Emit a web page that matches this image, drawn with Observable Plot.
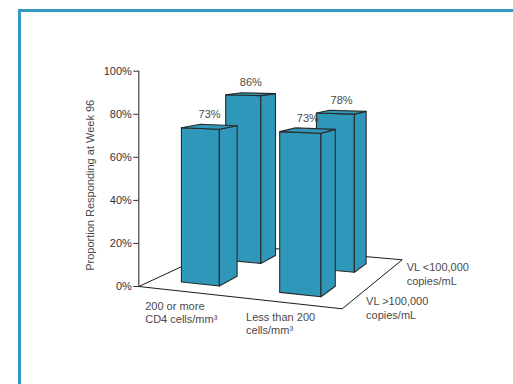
<!DOCTYPE html>
<html>
<head>
<meta charset="utf-8">
<script src="https://cdn.jsdelivr.net/npm/d3@7"></script>
<script src="https://cdn.jsdelivr.net/npm/@observablehq/plot@0.6"></script>
<style>
  html, body { margin: 0; padding: 0; background: #fff; overflow: hidden; }
  #chart { position: absolute; left: 0; top: 0; width: 513px; height: 384px; }
  #frame {
    position: absolute; left: 18px; top: 9px; width: 620px; height: 500px;
    border-left: 3px solid #3399bf; border-top: 3px solid #3399bf;
    pointer-events: none;
  }
</style>
</head>
<body>
<div id="chart"></div>
<div id="frame"></div>
<script>
// Categories (across) and viral-load series (into depth)
const categories = ["200 or more\nCD4 cells/mm³", "Less than 200\ncells/mm³"];
const series = ["VL >100,000\ncopies/mL", "VL <100,000\ncopies/mL"];
const vlAbove100k = [73, 73];   // front row
const vlBelow100k = [86, 78];   // back row
const yTicks = [0, 20, 40, 60, 80, 100];
const yTitle = "Proportion Responding at Week 96";

// Perspective of the floor: u runs across the categories, v runs into depth (both 0..1).
// Corners are given in y-axis units (one unit = one percentage point at the front-left corner):
// front-left, front-right, back-right, back-left.
const floorCorners = [[0, 0], [94.47, -10.36], [122.34, 12.40], [41.99, 19.46]];

function squareToQuad(q) {
  const [[x0, y0], [x1, y1], [x2, y2], [x3, y3]] = q;
  const dx1 = x1 - x2, dx2 = x3 - x2, dx3 = x0 - x1 + x2 - x3;
  const dy1 = y1 - y2, dy2 = y3 - y2, dy3 = y0 - y1 + y2 - y3;
  const den = dx1 * dy2 - dy1 * dx2;
  const g = (dx3 * dy2 - dy3 * dx2) / den;
  const h = (dx1 * dy3 - dy1 * dx3) / den;
  return {
    a: x1 - x0 + g * x1, b: x3 - x0 + h * x3, c: x0,
    d: y1 - y0 + g * y1, e: y3 - y0 + h * y3, f: y0, g, h
  };
}
const H = squareToQuad(floorCorners);

// Project a floor position (u, v) raised by a percentage value; heights shrink with distance.
function project(u, v, value) {
  const w = 1 + H.g * u + H.h * v;
  return [(H.a * u + H.b * v + H.c) / w, (H.d * u + H.e * v + H.f + value) / w];
}

// Bar layout on the floor
const catU = [0.245, 0.75], barW = 0.2;
const rowV = [0.25, 0.745], barD = 0.2;
const seriesLabelV = [0.17, 0.88], seriesLabelU = 1.055;
const rows = [vlAbove100k, vlBelow100k];

// Back row first so the front row paints over it
const bars = [];
for (const j of [1, 0]) {
  for (let i = 0; i < categories.length; i++) bars.push({i, j, value: rows[j][i]});
}

const faces = [];
bars.forEach((b, k) => {
  const u0 = catU[b.i] - barW / 2, u1 = catU[b.i] + barW / 2;
  const v0 = rowV[b.j] - barD / 2, v1 = rowV[b.j] + barD / 2;
  const t = b.value;
  const quads = {
    front: [[u0, v0, 0], [u1, v0, 0], [u1, v0, t], [u0, v0, t]],
    side:  [[u1, v0, 0], [u1, v1, 0], [u1, v1, t], [u1, v0, t]],
    top:   [[u0, v0, t], [u1, v0, t], [u1, v1, t], [u0, v1, t]]
  };
  for (const [name, pts] of Object.entries(quads)) {
    for (const p of [...pts, pts[0]]) {
      const [x, y] = project(...p);
      faces.push({id: `${k}-${name}`, x, y});
    }
  }
});

const floor = [[0, 0], [1, 0], [1, 1], [0, 1], [0, 0]].map(([u, v]) => {
  const [x, y] = project(u, v, 0);
  return {x, y};
});

const valueLabels = bars.map(b => {
  const [x, y] = project(catU[b.i], rowV[b.j], b.value);
  return {x, y, text: `${b.value}%`};
});

const categoryLabels = categories.map((c, i) => {
  const [x, y] = project(catU[i] - barW / 2, 0, 0);
  return {x, y, text: c};
});

const seriesLabels = series.map((s, j) => {
  const [x, y] = project(seriesLabelU, seriesLabelV[j], 0);
  return {x, y, text: s};
});

const font = "'Liberation Sans', Arial, sans-serif";
const ink = "#4a4a4a";

const chart = Plot.plot({
  width: 513,
  height: 384,
  marginLeft: 138.3,
  marginRight: 159.4,
  marginTop: 70.7,
  marginBottom: 98,
  style: {fontFamily: font, fontSize: "11px", color: "#333", background: "transparent"},
  x: {domain: [0, 100], axis: null},
  y: {domain: [0, 100], ticks: yTicks, tickFormat: d => `${d}%`, tickSize: 5, tickPadding: 2, label: null},
  marks: [
    Plot.line(floor, {x: "x", y: "y", stroke: "#1a1a1a", strokeWidth: 1}),
    Plot.ruleX([0], {y1: 0, y2: 100, stroke: "#1a1a1a", strokeWidth: 1}),
    Plot.line(faces, {
      x: "x", y: "y", z: "id",
      fill: "#2f97ba", stroke: "#2a2a2a", strokeWidth: 1.1, strokeLinejoin: "round"
    }),
    Plot.text(valueLabels, {
      x: "x", y: "y", text: "text", dy: -12, lineAnchor: "middle",
      fill: ink, fontSize: 11, fontFamily: font
    }),
    Plot.text(categoryLabels, {
      x: "x", y: "y", text: "text", dx: -21, dy: 22.5, textAnchor: "start",
      lineAnchor: "middle", lineHeight: 1.25, fill: ink, fontSize: 11, fontFamily: font
    }),
    Plot.text(seriesLabels, {
      x: "x", y: "y", text: "text", dy: 7.5, textAnchor: "start",
      lineAnchor: "middle", lineHeight: 1.3, fill: ink, fontSize: 11, fontFamily: font
    }),
    Plot.text([yTitle], {
      x: -22.4, y: 47, text: d => d, rotate: -90, lineAnchor: "middle",
      fill: ink, fontSize: 11, fontFamily: font
    })
  ]
});

document.getElementById("chart").appendChild(chart);
</script>
</body>
</html>
